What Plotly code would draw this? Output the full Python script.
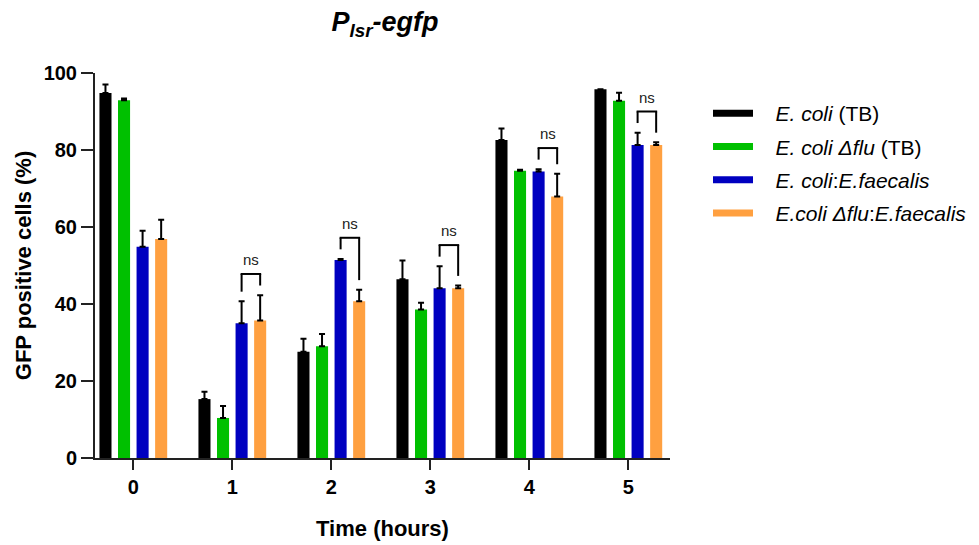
import plotly.graph_objects as go

times = [0, 1, 2, 3, 4, 5]
tick_labels = ["0", "1", "2", "3", "4", "5"]

series_names = [
    "<i>E. coli</i> (TB)",
    "<i>E. coli</i> <i>Δflu</i> (TB)",
    "<i>E. coli</i>:<i>E.faecalis</i>",
    "<i>E.coli Δflu</i>:<i>E.faecalis</i>",
]
ecoli_tb = [94.8, 15.3, 27.6, 46.4, 82.6, 95.8]
ecoli_tb_err = [2.2, 1.9, 3.4, 4.9, 3.0, 0.0]
ecoli_dflu_tb = [92.9, 10.4, 29.0, 38.6, 74.6, 92.8]
ecoli_dflu_tb_err = [0.5, 3.1, 3.2, 1.7, 0.3, 2.1]
ecoli_ef = [54.9, 35.0, 51.4, 44.1, 74.4, 81.3]
ecoli_ef_err = [4.1, 5.7, 0.3, 5.7, 0.6, 3.2]
ecoli_dflu_ef = [56.9, 35.7, 40.7, 44.1, 67.9, 81.3]
ecoli_dflu_ef_err = [5.0, 6.6, 3.0, 0.7, 5.9, 0.7]

ns_times = [1, 2, 3, 4, 5]
ns_label = "ns"

colors = ["#000000", "#00C000", "#0000C0", "#FFA040"]
values = [ecoli_tb, ecoli_dflu_tb, ecoli_ef, ecoli_dflu_ef]
errors = [ecoli_tb_err, ecoli_dflu_tb_err, ecoli_ef_err, ecoli_dflu_ef_err]

font = "Arial, Liberation Sans, sans-serif"
NB = "\u00a0"

# the page body has an 8px margin; size the figure to fill the rest of the window
W, H = 971, 537

fig = go.Figure()
for i, (name, vals, errs, col) in enumerate(zip(series_names, values, errors, colors)):
    fig.add_trace(go.Bar(
        x=times, y=vals, name=name, marker=dict(color=col, line=dict(width=0)),
        error_y=dict(type="data", array=errs, arrayminus=[0] * len(errs), symmetric=False,
                     color="#000000", thickness=2, width=3),
        showlegend=False,
    ))
    # legend swatch (thick line)
    fig.add_trace(go.Scatter(
        x=[None], y=[None], mode="lines", name=NB * 3 + name, legendgroup=f"g{i}",
        line=dict(color=col, width=7), showlegend=True,
    ))

# significance brackets between blue and orange bars
slot = 0.75 / 4
off_b = 0.5 * slot
off_o = 1.5 * slot
for t in ns_times:
    tb = ecoli_ef[t] + ecoli_ef_err[t]
    to = ecoli_dflu_ef[t] + ecoli_dflu_ef_err[t]
    top = max(tb, to) + 5.5
    xl, xr = t + off_b, t + off_o
    fig.add_shape(type="line", x0=xl, x1=xl, y0=tb + 2.5, y1=top, line=dict(color="#000", width=2))
    fig.add_shape(type="line", x0=xr, x1=xr, y0=to + 2.5, y1=top, line=dict(color="#000", width=2))
    fig.add_shape(type="line", x0=xl - 0.01, x1=xr + 0.01, y0=top, y1=top, line=dict(color="#000", width=2))
    fig.add_annotation(x=(xl + xr) / 2, y=top, text=ns_label, showarrow=False, yanchor="bottom",
                       yshift=4, font=dict(family=font, size=15, color="#222"))

fig.update_layout(
    width=W, height=H,
    margin=dict(l=87, r=309, t=65, b=87),
    paper_bgcolor="white", plot_bgcolor="white",
    barmode="group", bargap=0.25, bargroupgap=0.35,
    title=dict(text="<b><i>P<sub>lsr</sub>-egfp</i></b>", x=377 / W, xanchor="center",
               y=1 - 14 / H, yanchor="middle", font=dict(family=font, size=27, color="#000")),
    font=dict(family=font, color="#000"),
    showlegend=True,
    legend=dict(xref="container", yref="container", x=700 / W, y=1 - 85 / H, xanchor="left", yanchor="top",
                font=dict(family=font, size=21, color="#000"), traceorder="grouped", tracegroupgap=3,
                bgcolor="rgba(0,0,0,0)", itemwidth=40),
    xaxis=dict(range=[-0.387, 5.421], tickmode="array", tickvals=times, ticktext=tick_labels,
               showline=True, linecolor="#222", linewidth=2, ticks="outside", ticklen=10, tickwidth=2,
               tickcolor="#222", showgrid=False, zeroline=False, automargin=False,
               tickfont=dict(family=font, size=20, color="#000", weight="bold"),
               title=dict(text="<b>Time (hours)</b>", font=dict(family=font, size=22, color="#000"), standoff=24)),
    yaxis=dict(range=[0, 100], tickvals=[0, 20, 40, 60, 80, 100], showline=True, linecolor="#222", linewidth=2,
               ticks="outside", ticklen=12, tickwidth=2, tickcolor="#222", showgrid=False, zeroline=False,
               automargin=False,
               tickfont=dict(family=font, size=20, color="#000", weight="bold"),
               title=dict(text="<b>GFP positive cells (%)</b>", font=dict(family=font, size=22, color="#000"), standoff=6)),
)

fig.write_html("out.html")
